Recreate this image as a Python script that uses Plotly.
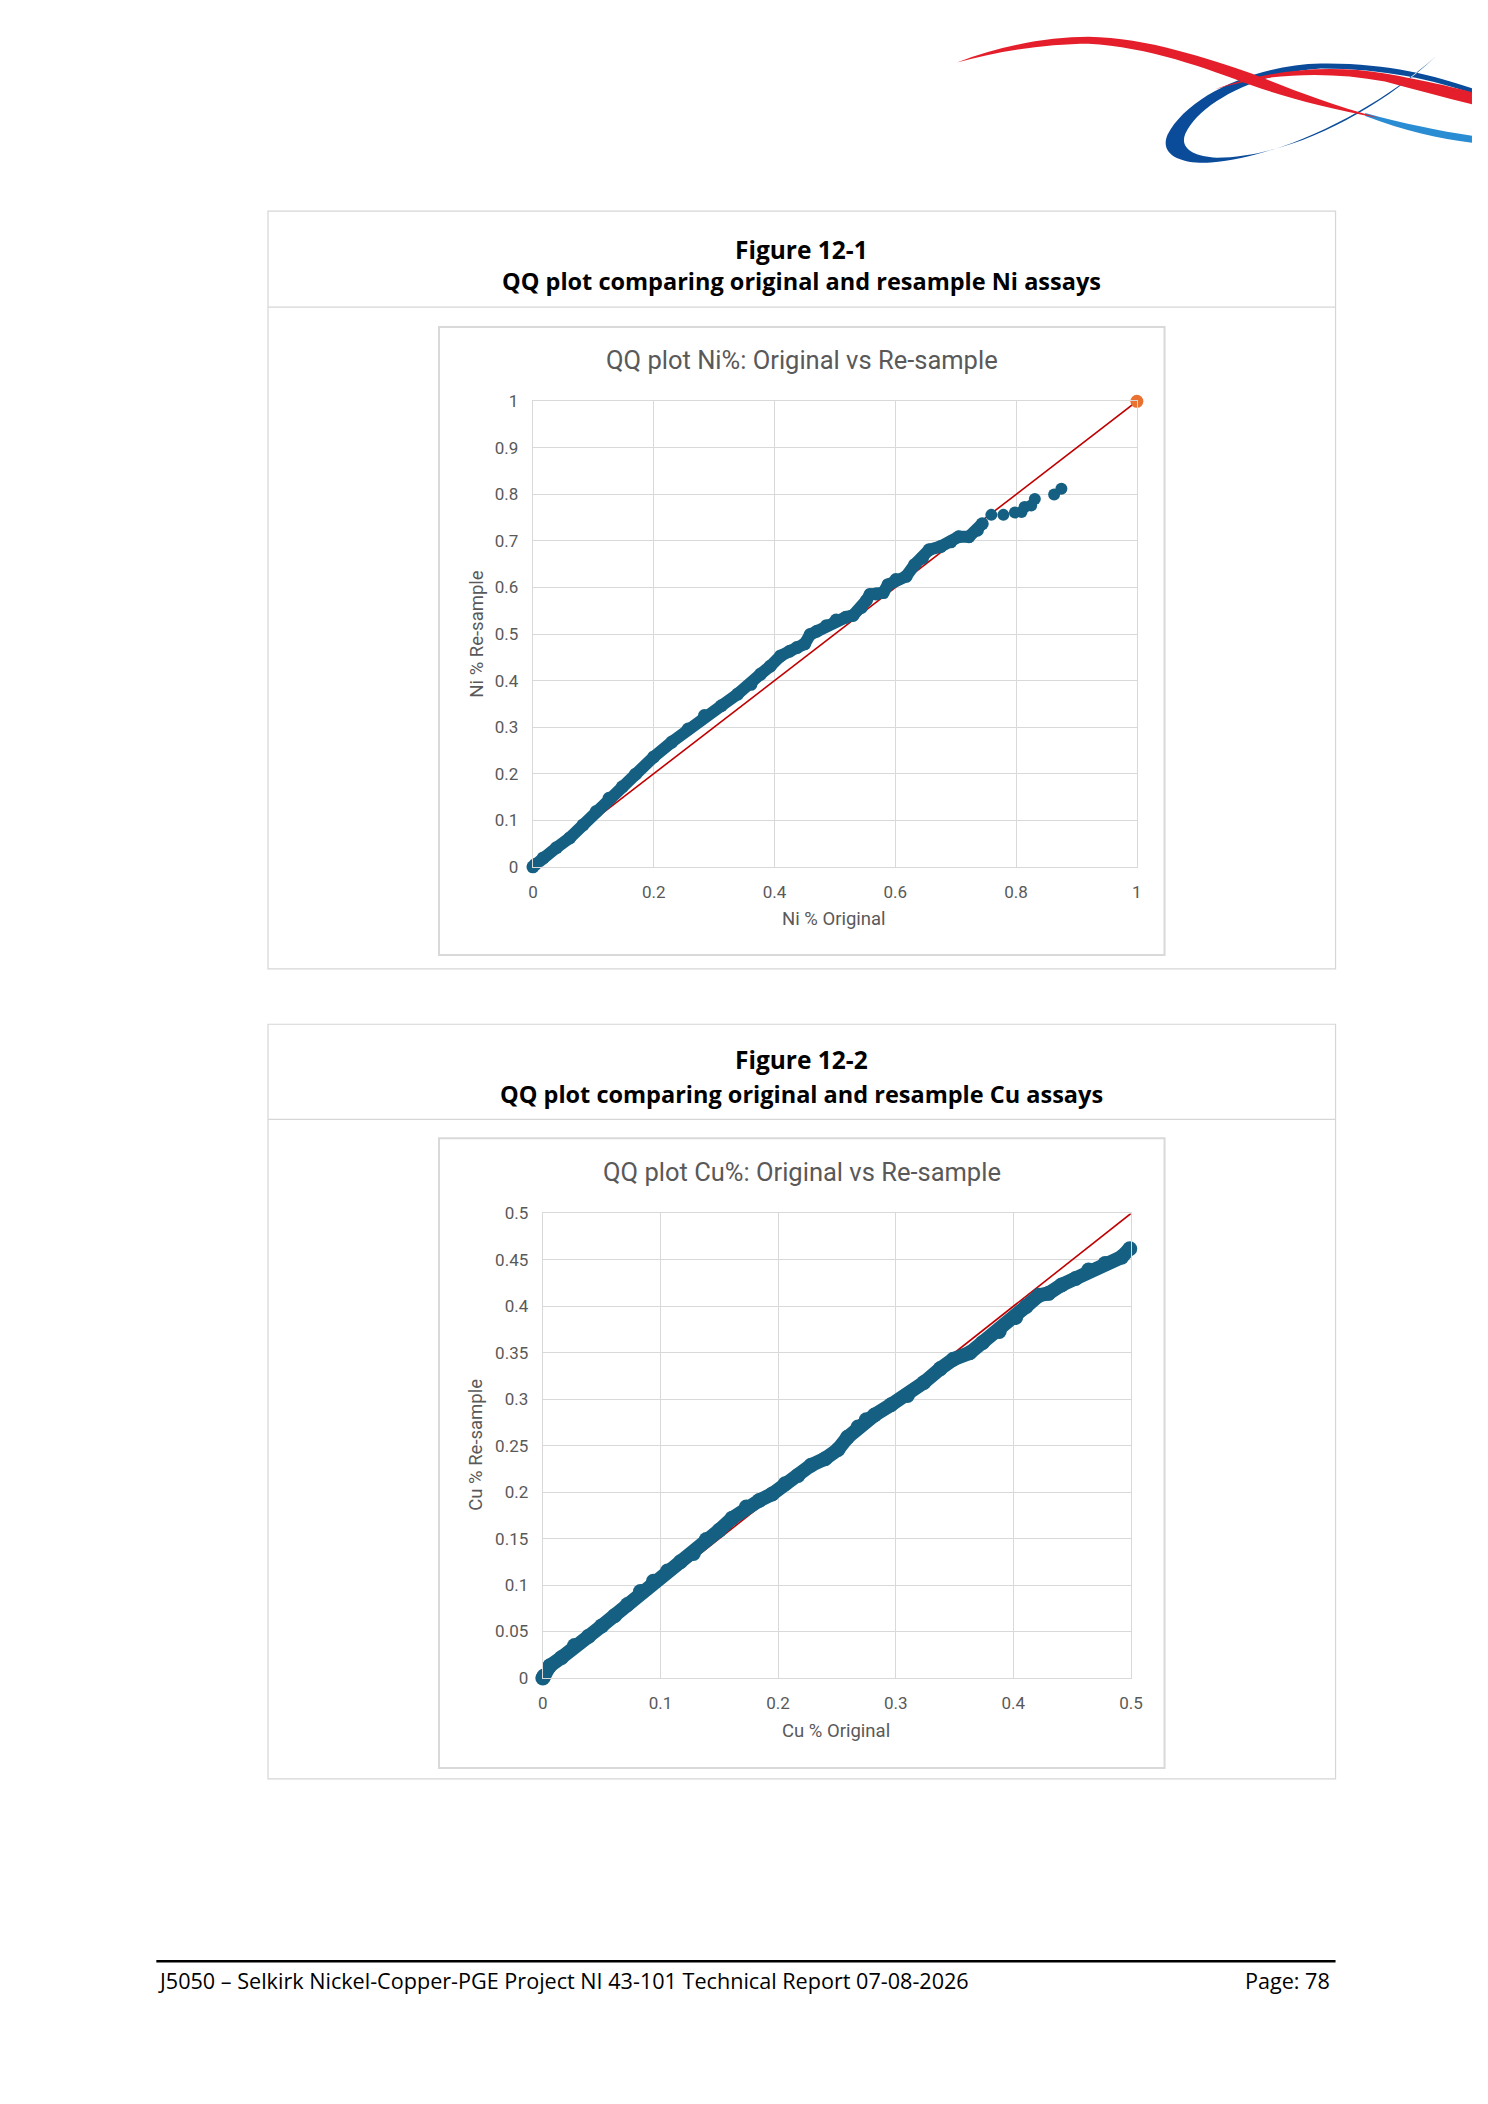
import plotly.graph_objects as go

# page size in px (the reference is a scanned report page)
W, H = 1488, 2104
FW, FH = W - 16, H - 16      # plot div size
OFFX, OFFY = 12, 17          # where the plot div lands on the page

# ---- Figure 12-1 : Ni QQ plot ----
ni_orig = [0.0, 0.004, 0.017, 0.039, 0.061, 0.083, 0.105, 0.126, 0.148, 0.170,
           0.200, 0.230, 0.257, 0.284, 0.312, 0.339, 0.361, 0.377, 0.393, 0.410,
           0.425, 0.437, 0.450, 0.459, 0.470, 0.486, 0.502, 0.518, 0.530, 0.544,
           0.552, 0.558, 0.568, 0.580, 0.588, 0.601, 0.618, 0.632, 0.645, 0.656,
           0.675, 0.692, 0.705, 0.722, 0.736, 0.744]
ni_resample = [0.0, 0.005, 0.019, 0.041, 0.062, 0.090, 0.119, 0.147, 0.172, 0.199,
               0.236, 0.268, 0.296, 0.325, 0.346, 0.371, 0.392, 0.414, 0.431, 0.453,
               0.463, 0.471, 0.479, 0.499, 0.506, 0.518, 0.530, 0.536, 0.540, 0.557,
               0.572, 0.585, 0.586, 0.589, 0.606, 0.617, 0.624, 0.649, 0.663, 0.681,
               0.688, 0.698, 0.709, 0.709, 0.723, 0.737]
# the few high grade pairs that sit apart
ni_tail_orig = [0.759, 0.779, 0.798, 0.809, 0.814, 0.825, 0.831, 0.863, 0.875]
ni_tail_resample = [0.756, 0.756, 0.761, 0.762, 0.773, 0.776, 0.790, 0.800, 0.812]
ni_ref = [0, 1]          # 1:1 line
ni_max = [1]             # orange end point

# ---- Figure 12-2 : Cu QQ plot ----
cu_orig = [0.0, 0.001, 0.006, 0.016, 0.027, 0.039, 0.050, 0.061, 0.072, 0.083,
           0.094, 0.106, 0.117, 0.128, 0.139, 0.150, 0.161, 0.173, 0.184, 0.195,
           0.206, 0.217, 0.228, 0.240, 0.251, 0.259, 0.268, 0.275, 0.282, 0.296,
           0.310, 0.324, 0.338, 0.349, 0.363, 0.374, 0.388, 0.402, 0.411, 0.422,
           0.430, 0.441, 0.453, 0.464, 0.478, 0.492, 0.499]
cu_resample = [0.0, 0.002, 0.013, 0.022, 0.035, 0.045, 0.056, 0.067, 0.079, 0.093,
               0.104, 0.115, 0.125, 0.134, 0.149, 0.159, 0.172, 0.184, 0.191, 0.198,
               0.209, 0.218, 0.229, 0.236, 0.246, 0.259, 0.270, 0.278, 0.283, 0.294,
               0.304, 0.318, 0.333, 0.343, 0.350, 0.361, 0.373, 0.388, 0.400, 0.412,
               0.414, 0.423, 0.430, 0.439, 0.446, 0.453, 0.462]
cu_ref = [0, 0.5]

BLUE = '#156082'
ORANGE = '#E97132'
RED = '#C00000'
GRID = '#D9D9D9'
TXT = '#595959'
CHART_FONT = 'Roboto'
DOC_FONT = 'Open Sans'


# page pixel -> paper fraction of the plot div
def fx(x):
    return (x - OFFX) / FW


def fy(y):
    return 1 - (y - OFFY) / FH


def rect(x0, y0, x1, y1, color, width=1.3):
    return dict(type='rect', xref='paper', yref='paper',
                x0=fx(x0), x1=fx(x1), y0=fy(y1), y1=fy(y0),
                line=dict(color=color, width=width), fillcolor='rgba(0,0,0,0)', layer='below')


def hline(x0, x1, y, color, width=1.3):
    return dict(type='line', xref='paper', yref='paper',
                x0=fx(x0), x1=fx(x1), y0=fy(y), y1=fy(y),
                line=dict(color=color, width=width), layer='below')


def path(cmds, color):
    # cmds: list of (letter, pt, pt, ...) in page pixels
    out = []
    for c in cmds:
        if c[0] == 'Z':
            out.append('Z')
            continue
        pts = ' '.join('%.5f,%.5f' % (fx(p[0]), fy(p[1])) for p in c[1:])
        out.append(c[0] + ' ' + pts)
    return dict(type='path', xref='paper', yref='paper', path=' '.join(out),
                fillcolor=color, line=dict(width=0), layer='above')


def text(s, x, y, size, color, family, bold=False, xanchor='center', angle=0):
    return dict(text='<b>%s</b>' % s if bold else s, x=fx(x), y=fy(y),
                xref='paper', yref='paper', xanchor=xanchor, yanchor='middle',
                showarrow=False, textangle=angle,
                font=dict(size=size, color=color, family=family))


fig = go.Figure()

# Ni subplot
fig.add_trace(go.Scatter(x=ni_ref, y=ni_ref, mode='lines', line=dict(color=RED, width=1.6),
                         xaxis='x', yaxis='y', hoverinfo='skip'))
fig.add_trace(go.Scatter(x=ni_orig, y=ni_resample, mode='lines+markers',
                         line=dict(color=BLUE, width=12), marker=dict(color=BLUE, size=13),
                         xaxis='x', yaxis='y', cliponaxis=False))
fig.add_trace(go.Scatter(x=ni_tail_orig, y=ni_tail_resample, mode='markers',
                         marker=dict(color=BLUE, size=12), xaxis='x', yaxis='y'))
fig.add_trace(go.Scatter(x=ni_max, y=ni_max, mode='markers',
                         marker=dict(color=ORANGE, size=13), xaxis='x', yaxis='y',
                         cliponaxis=False))

# Cu subplot
fig.add_trace(go.Scatter(x=cu_ref, y=cu_ref, mode='lines', line=dict(color=RED, width=1.6),
                         xaxis='x2', yaxis='y2', hoverinfo='skip'))
fig.add_trace(go.Scatter(x=cu_orig, y=cu_resample, mode='lines+markers',
                         line=dict(color=BLUE, width=14), marker=dict(color=BLUE, size=15),
                         xaxis='x2', yaxis='y2', cliponaxis=False))

axis_style = dict(showgrid=True, gridcolor=GRID, gridwidth=1.3, zeroline=False,
                  showline=True, linecolor=GRID, linewidth=1.3, mirror=True, ticks='',
                  tickfont=dict(size=17, color=TXT, family=CHART_FONT), fixedrange=True,
                  ticklabelstandoff=10)

fig.update_layout(
    width=FW, height=FH, margin=dict(l=0, r=0, t=0, b=0),
    paper_bgcolor='white', plot_bgcolor='white', showlegend=False,
    xaxis=dict(domain=[fx(538), fx(1149)], range=[0, 1], dtick=0.2, anchor='y', **axis_style),
    yaxis=dict(domain=[fy(874), fy(404)], range=[0, 1], dtick=0.1, anchor='x', **axis_style),
    xaxis2=dict(domain=[fx(548), fx(1143)], range=[0, 0.5], dtick=0.1, anchor='y2', **axis_style),
    yaxis2=dict(domain=[fy(1693), fy(1224)], range=[0, 0.5], dtick=0.05, anchor='x2', **axis_style),
)

shapes = [
    # figure frames and header separators
    rect(270, 212, 1350, 977, '#D6D6D6', 1.2),
    hline(270, 1350, 309, '#D6D6D6', 1.2),
    rect(443, 329, 1177, 963, GRID, 2),
    rect(270, 1033, 1350, 1795, '#D6D6D6', 1.2),
    hline(270, 1350, 1129, '#D6D6D6', 1.2),
    rect(443, 1148, 1177, 1784, GRID, 2),
    # footer rule
    hline(157, 1350, 1979, '#000000', 2.5),
]

# logo, top right corner
shapes.append(path([
    ('M', (1335, 63)),
    ('C', (1270, 64), (1200, 95), (1180, 135)),
    ('C', (1171, 156), (1196, 165), (1224, 163)),
    ('C', (1300, 156), (1390, 110), (1451, 56)),
    ('C', (1390, 113), (1300, 158), (1230, 158)),
    ('C', (1206, 157), (1192, 148), (1198, 134)),
    ('C', (1212, 103), (1270, 72), (1335, 68)),
    ('C', (1400, 68), (1450, 80), (1488, 93)),
    ('L', (1488, 88)),
    ('C', (1450, 75), (1400, 62), (1335, 63)),
    ('Z',)], '#0B4C9A'))
shapes.append(path([
    ('M', (1380, 113)),
    ('C', (1420, 124), (1455, 131), (1488, 136)),
    ('L', (1488, 143)),
    ('C', (1455, 139), (1420, 131), (1380, 116)),
    ('Z',)], '#2A8CD2'))
shapes.append(path([
    ('M', (967, 62)),
    ('C', (1010, 45), (1060, 36), (1100, 36)),
    ('C', (1160, 37), (1220, 58), (1265, 73)),
    ('C', (1300, 87), (1340, 103), (1394, 118)),
    ('C', (1340, 108), (1300, 97), (1265, 85)),
    ('C', (1220, 68), (1160, 46), (1100, 43)),
    ('C', (1060, 43), (1010, 50), (967, 62)),
    ('Z',)], '#E41E2B'))
shapes.append(path([
    ('M', (1228, 89)),
    ('C', (1280, 70), (1340, 63), (1400, 73)),
    ('C', (1440, 80), (1470, 87), (1488, 92)),
    ('L', (1488, 104)),
    ('C', (1460, 97), (1430, 89), (1400, 81)),
    ('C', (1340, 70), (1280, 73), (1228, 89)),
    ('Z',)], '#E41E2B'))

annotations = [
    text('Figure 12-1', 810, 251, 24.5, '#000000', DOC_FONT, bold=True),
    text('QQ plot comparing original and resample Ni assays', 810, 283, 23.5, '#000000', DOC_FONT, bold=True),
    text('QQ plot Ni%: Original vs Re-sample', 810, 362, 25.5, TXT, CHART_FONT),
    text('Ni % Original', 843, 927, 18.5, TXT, CHART_FONT),
    text('Ni % Re-sample', 481, 639, 18.5, TXT, CHART_FONT, angle=-90),
    text('Figure 12-2', 810, 1069, 24.5, '#000000', DOC_FONT, bold=True),
    text('QQ plot comparing original and resample Cu assays', 810, 1103, 23.5, '#000000', DOC_FONT, bold=True),
    text('QQ plot Cu%: Original vs Re-sample', 810, 1182, 25.5, TXT, CHART_FONT),
    text('Cu % Original', 845, 1747, 18.5, TXT, CHART_FONT),
    text('Cu % Re-sample', 481, 1458, 18.5, TXT, CHART_FONT, angle=-90),
    text('J5050 \u2013 Selkirk Nickel-Copper-PGE Project NI 43-101 Technical Report 07-08-2026',
         157, 1998, 21.6, '#000000', DOC_FONT, xanchor='left'),
    text('Page: 78', 1346, 1998, 21.6, '#000000', DOC_FONT, xanchor='right'),
]

fig.update_layout(shapes=shapes, annotations=annotations)

fig.write_html("out.html")
